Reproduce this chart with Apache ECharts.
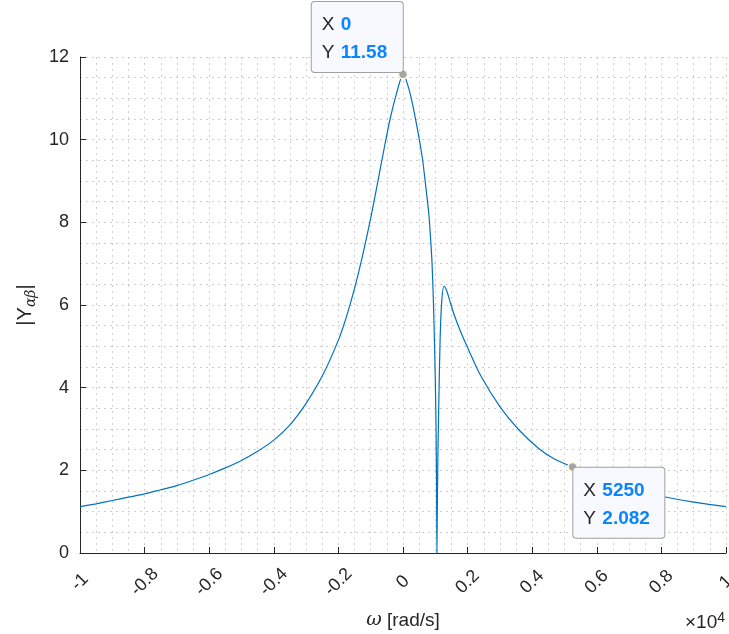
<!DOCTYPE html>
<html>
<head>
<meta charset="utf-8">
<title></title>
<script src="https://cdn.jsdelivr.net/npm/echarts@6/dist/echarts.min.js"></script>
<style>
  html, body { margin: 0; padding: 0; background: #fff; }
  #main { width: 729px; height: 634px; }
</style>
</head>
<body>
<div id="main"></div>
<script>
// values
var omega = [-10000, -9500, -9000, -8500, -8000, -7500, -7000, -6500, -6000, -5500,
  -5000, -4500, -4000, -3500, -3000, -2500, -2000, -1750, -1500, -1250,
  -1000, -800, -600, -400, -200, 0, 200, 400, 600, 700,
  800, 850, 900, 950, 1000, 1025, 1040, 1050, 1065, 1085,
  1115, 1150, 1200, 1270, 1350, 1450, 1560, 1750, 2000, 2400,
  3000, 3600, 4200, 4700, 5250, 6000, 7000, 8000, 9000, 10000];
var magY = [1.12, 1.19, 1.27, 1.35, 1.43, 1.53, 1.63, 1.76, 1.90, 2.06,
  2.24, 2.46, 2.73, 3.1, 3.62, 4.28, 5.15, 5.72, 6.4, 7.2,
  8.1, 8.9, 9.72, 10.5, 11.12, 11.58, 11.18, 10.45, 9.55, 8.9,
  8.2, 7.65, 7.0, 5.85, 4.2, 2.9, 1.5, 0, 1.3, 2.6,
  3.9, 5.2, 6.1, 6.46, 6.35, 6.1, 5.82, 5.42, 4.97, 4.3,
  3.54, 2.97, 2.53, 2.27, 2.082, 1.86, 1.6, 1.38, 1.23, 1.12];
var xTicks = [-1, -0.8, -0.6, -0.4, -0.2, 0, 0.2, 0.4, 0.6, 0.8, 1];
var tips = [[0, 11.58], [5250, 2.082]];

var pts = [];
for (var i = 0; i < omega.length; i++) pts.push([omega[i], magY[i]]);

var txt = '#262626';
var font = 'Liberation Sans, Arial, sans-serif';
var dots = { color: '#cfcfcf', type: [2, 4], width: 1 };

var myChart = echarts.init(document.getElementById('main'));
myChart.setOption({
  animation: false,
  grid: { left: 80, right: 3, top: 57, bottom: 81, containLabel: false, outerBoundsMode: 'none' },
  xAxis: {
    type: 'value', min: -10000, max: 10000, interval: 2000,
    name: '{w|ω} [rad/s]', nameLocation: 'middle', nameGap: 58,
    nameTextStyle: { color: txt, fontSize: 19, fontFamily: font,
      rich: { w: { fontStyle: 'italic', fontSize: 19, color: txt, fontFamily: 'DejaVu Serif' } } },
    axisLine: { show: true, onZero: false, lineStyle: { color: '#262626', width: 1 } },
    axisTick: { show: true, inside: true, length: 6, lineStyle: { color: '#262626' } },
    axisLabel: {
      color: txt, fontSize: 18, fontFamily: font, rotate: 45, margin: 29,
      align: 'center', verticalAlign: 'middle', showMinLabel: true, showMaxLabel: true,
      formatter: function (v) { return xTicks[Math.round((v + 10000) / 2000)]; }
    },
    splitLine: { show: true, lineStyle: dots },
    minorTick: { show: false, splitNumber: 4 },
    minorSplitLine: { show: true, lineStyle: dots }
  },
  yAxis: {
    type: 'value', min: 0, max: 12, interval: 2,
    name: '|Y{s|αβ}|', nameLocation: 'middle', nameGap: 42, nameRotate: 90,
    nameTextStyle: { color: txt, fontSize: 20, fontFamily: font,
      rich: { s: { fontSize: 14, fontStyle: 'italic', color: txt, fontFamily: 'DejaVu Serif',
        padding: [12, 0, 0, 0] } } },
    axisLine: { show: true, onZero: false, lineStyle: { color: '#262626', width: 1 } },
    axisTick: { show: true, inside: true, length: 6, lineStyle: { color: '#262626' } },
    axisLabel: { color: txt, fontSize: 18, fontFamily: font, margin: 11 },
    splitLine: { show: true, lineStyle: dots },
    minorTick: { show: false, splitNumber: 4 },
    minorSplitLine: { show: true, lineStyle: dots }
  },
  series: [{
    type: 'line',
    data: pts,
    showSymbol: false,
    smooth: 0.25,
    lineStyle: { color: '#0072BD', width: 1.2 },
    markPoint: {
      symbol: 'circle', symbolSize: 9,
      itemStyle: { color: '#a6a6a6', borderColor: '#fffbe0', borderWidth: 1.5 },
      data: [
        { coord: tips[0], label: { position: [5, 3], align: 'right', verticalAlign: 'bottom' } },
        { coord: tips[1], label: { position: [6, 6], align: 'left', verticalAlign: 'top' } }
      ],
      label: {
        show: true,
        formatter: function (p) {
          return '{k|X}{v|' + p.data.coord[0] + '}\n{k|Y}{v|' + p.data.coord[1] + '}';
        },
        backgroundColor: '#f8f8ff', borderColor: '#a0a0a0', borderWidth: 1, borderRadius: 3,
        padding: [9, 12, 5, 10], lineHeight: 28,
        rich: {
          k: { color: txt, fontSize: 19, fontFamily: font, lineHeight: 28, width: 19, align: 'left' },
          v: { color: '#0a84ff', fontSize: 19, fontWeight: 'bold', fontFamily: font, lineHeight: 28,
            width: 50, align: 'left' }
        }
      }
    }
  }],
  graphic: [{
    type: 'text', right: 4, top: 611,
    style: { text: '×10{s|4}', fill: txt, font: '19px ' + font,
      rich: { s: { fontSize: 14, fontFamily: font, fill: txt, padding: [0, 0, 10, 0] } } }
  }]
});
</script>
</body>
</html>
